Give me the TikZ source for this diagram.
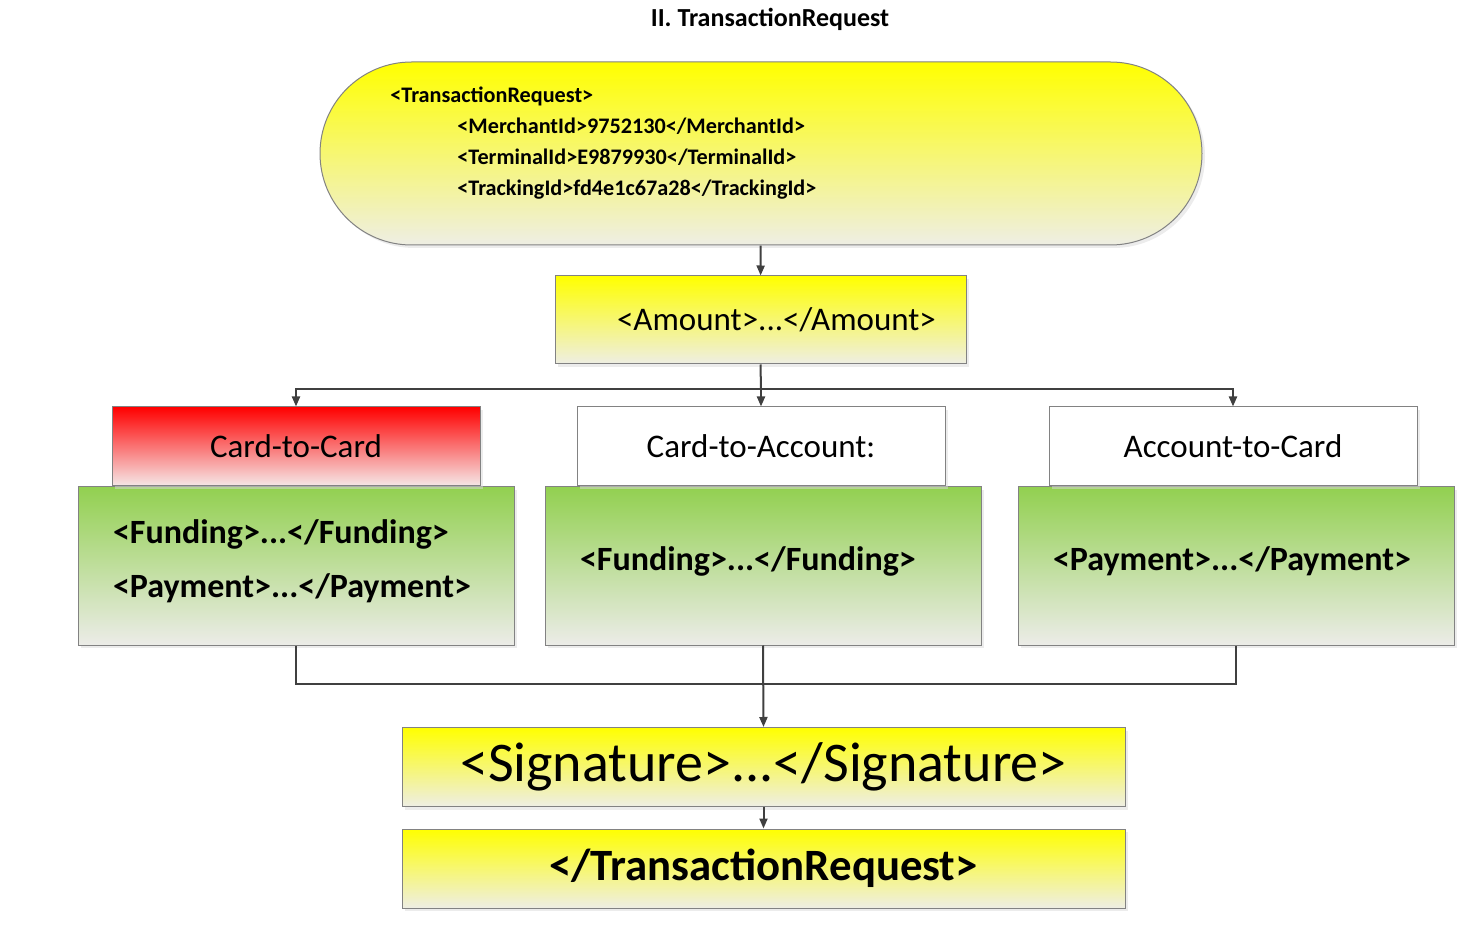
\documentclass[tikz,border=0pt]{standalone}
\usepackage{fontspec}
\setmainfont{Carlito}
\usepackage{tikz}
\usetikzlibrary{arrows.meta}
\usetikzlibrary{positioning}
\usetikzlibrary{shadows}
\usetikzlibrary{shapes.misc}

\definecolor{xmlYellow}{RGB}{255,255,0}
\definecolor{xmlFade}{RGB}{238,238,228}
\definecolor{redTop}{RGB}{255,0,0}
\definecolor{redFade}{RGB}{245,232,232}
\definecolor{greenTop}{RGB}{146,208,80}
\definecolor{greenFade}{RGB}{236,236,232}
\definecolor{lineGray}{RGB}{64,64,64}
\definecolor{edgeGray}{RGB}{130,130,130}

\begin{document}
\begin{tikzpicture}[
            x=0.5pt, y=-0.5pt,
            box/.style={draw=edgeGray, line width=0.5pt, inner sep=0pt,
                drop shadow={shadow xshift=1.5pt, shadow yshift=-1.5pt, fill=black!15}},
            yellowbox/.style={box, top color=xmlYellow, bottom color=xmlFade},
            greenbox/.style={box, top color=greenTop, bottom color=greenFade,
                minimum width=218pt, minimum height=79pt, inner xsep=17.5pt,
                text width=183pt, align=left,
                execute at end node={\rule[-7.5pt]{0pt}{0pt}},
                font=\bfseries\fontsize{17}{27}\selectfont},
            headbox/.style={box, fill=white, minimum width=184pt, minimum height=39.5pt,
                font=\fontsize{16.5}{20}\selectfont},
            link/.style={draw=lineGray, line width=1pt},
            flow/.style={link, -{Triangle[length=5pt, width=4pt]}},
        ]
            \useasboundingbox (0,0) rectangle (1480,925);

            % --- Titel ---
            \node[font=\bfseries\fontsize{13}{16}\selectfont] (title) at (770,19) {II. TransactionRequest};

            % --- Kopf der Anfrage ---
            \node[yellowbox, shape=rounded rectangle, minimum width=441pt, minimum height=91.5pt]
                (head) at (761,153.5) {};
            \node[anchor=west, inner sep=0pt, align=left,
                font=\bfseries\fontsize{11.1}{15.5}\selectfont] (headtext) at (390,143)
                {<TransactionRequest>\\
                 \hspace*{33.5pt}<MerchantId>9752130</MerchantId>\\
                 \hspace*{33.5pt}<TerminalId>E9879930</TerminalId>\\
                 \hspace*{33.5pt}<TrackingId>fd4e1c67a28</TrackingId>};

            \node[yellowbox, minimum width=205.5pt, minimum height=44pt,
                font=\fontsize{16.5}{20}\selectfont] (amount) at (760.5,320)
                {\hspace*{16pt}<Amount>...</Amount>};

            % --- Die drei Varianten ---
            \node[greenbox] (fundL) at (296,566) {<Funding>...</Funding>\\<Payment>...</Payment>};
            \node[greenbox] (fundM) at (763,566) {<Funding>...</Funding>};
            \node[greenbox] (fundR) at (1236,566) {<Payment>...</Payment>};

            \node[headbox, fill=none, top color=redTop, bottom color=redFade, above=0pt of fundL] (hdrL) {Card-to-Card};
            \node[headbox, above=0pt of fundM, xshift=-1pt] (hdrM) {Card-to-Account:};
            \node[headbox, above=0pt of fundR, xshift=-1.5pt] (hdrR) {Account-to-Card};

            % --- Abschluss ---
            \node[yellowbox, minimum width=361.5pt, minimum height=39.5pt,
                font=\fontsize{28}{32}\selectfont] (sig) at (763.5,767) {<Signature>...</Signature>};
            \node[yellowbox, minimum width=361.5pt, minimum height=39.5pt,
                font=\bfseries\fontsize{22.4}{26}\selectfont] (close) at (763.5,868.5) {</TransactionRequest>};

            % --- Verbindungen ---
            \coordinate (fork) at (761,389);
            \coordinate (merge) at (763,684);
            \draw[flow] (head) -- (amount);
            \draw[link] (amount.south) -- (fork);
            \foreach \b in {hdrL, hdrM, hdrR} {
                \draw[flow] (fork) -| (\b.north);
            }
            \draw[link] (fundL.south) |- (merge);
            \draw[link] (fundR.south) |- (merge);
            \draw[flow] (fundM.south) -- (sig.north);
            \draw[flow] (sig) -- (close);
        \end{tikzpicture}
\end{document}
